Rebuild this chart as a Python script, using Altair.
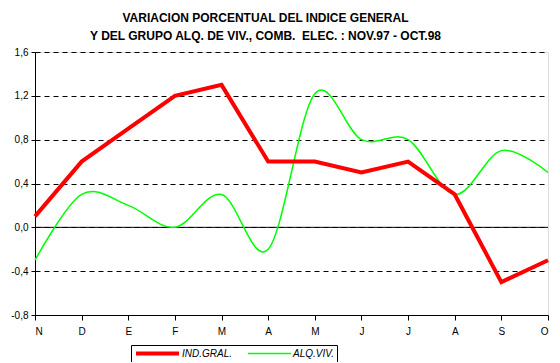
import altair as alt
import pandas as pd

months = ["N", "D", "E", "F", "M", "A", "M", "J", "J", "A", "S", "O"]
ind_gral = [0.1, 0.6, 0.9, 1.2, 1.3, 0.6, 0.6, 0.5, 0.6, 0.3, -0.5, -0.3]
alq_viv = [-0.3, 0.3, 0.2, 0.0, 0.3, -0.2, 1.22, 0.8, 0.8, 0.3, 0.7, 0.5]
series_names = ["IND.GRAL.", "ALQ.VIV."]
y_ticks = [-0.8, -0.4, 0.0, 0.4, 0.8, 1.2, 1.6]
zero_line = [0.0]

rows = []
for i, m in enumerate(months):
    rows.append({"i": i, "mes": m, "serie": series_names[0], "v": ind_gral[i]})
    rows.append({"i": i, "mes": m, "serie": series_names[1], "v": alq_viv[i]})
df = pd.DataFrame(rows)

FONT = "Liberation Sans"
x_label_expr = "[" + ",".join(f"'{m}'" for m in months) + "][datum.value]"
y_label_expr = "replace(replace(format(datum.value, '.1f'), '.', ','), '\u2212', '-')"

x = alt.X(
    "i:Q",
    scale=alt.Scale(domain=[0, 11], nice=False, zero=False),
    axis=alt.Axis(values=list(range(12)), labelExpr=x_label_expr, title=None,
                  grid=False, tickSize=5, labelPadding=6, labelFontSize=10,
                  labelFont=FONT, domainColor="black", tickColor="black",
                  labelColor="black"),
)
y = alt.Y(
    "v:Q",
    scale=alt.Scale(domain=[-0.8, 1.6], nice=False, zero=False),
    axis=alt.Axis(values=y_ticks, labelExpr=y_label_expr, title=None,
                  grid=True, gridDash=[5, 4], gridColor="black", gridOpacity=1,
                  tickSize=4, labelPadding=3, labelFontSize=10, labelFont=FONT,
                  domainColor="black", tickColor="black", labelColor="black"),
)
legend = alt.Legend(
    title=None, orient="none", legendX=96, legendY=293, direction="horizontal",
    strokeColor="black", padding=3, symbolType="stroke", symbolSize=1849,
    clipHeight=11, labelFontStyle="italic", labelFontSize=10, labelFont=FONT,
    columnPadding=14, labelOffset=1, labelColor="black",
)
color = alt.Color("serie:N", scale=alt.Scale(domain=series_names, range=["#ff0000", "#00ff00"]), legend=legend)
sw = alt.StrokeWidth("serie:N", scale=alt.Scale(domain=series_names, range=[4, 1.5]), legend=legend)

base = alt.Chart(df)
red = base.transform_filter(alt.datum.serie == series_names[0]).mark_line(interpolate="linear").encode(x=x, y=y, color=color, strokeWidth=sw)
green = base.transform_filter(alt.datum.serie == series_names[1]).mark_line(interpolate="cardinal").encode(x=x, y=y, color=color, strokeWidth=sw)
zero = alt.Chart(pd.DataFrame({"z": zero_line})).mark_rule(color="black", strokeWidth=1).encode(y="z:Q")

chart = alt.layer(zero, green, red).properties(
    width=513, height=263,
    autosize=alt.AutoSizeParams(type="none"),
    padding={"left": 27, "top": 44, "right": 4, "bottom": 47},
    title=alt.Title(
        ["VARIACION PORCENTUAL DEL INDICE GENERAL",
         "Y DEL GRUPO ALQ. DE VIV., COMB.\u00a0 ELEC. : NOV.97 - OCT.98"],
        font=FONT, fontSize=12, fontWeight="bold", anchor="middle", dx=-26,
        offset=4, lineHeight=18, color="black",
    ),
).configure_view(stroke="black", strokeWidth=1).configure(background="white")

chart.save("out.html", embed_options={"renderer": "svg", "actions": False})
